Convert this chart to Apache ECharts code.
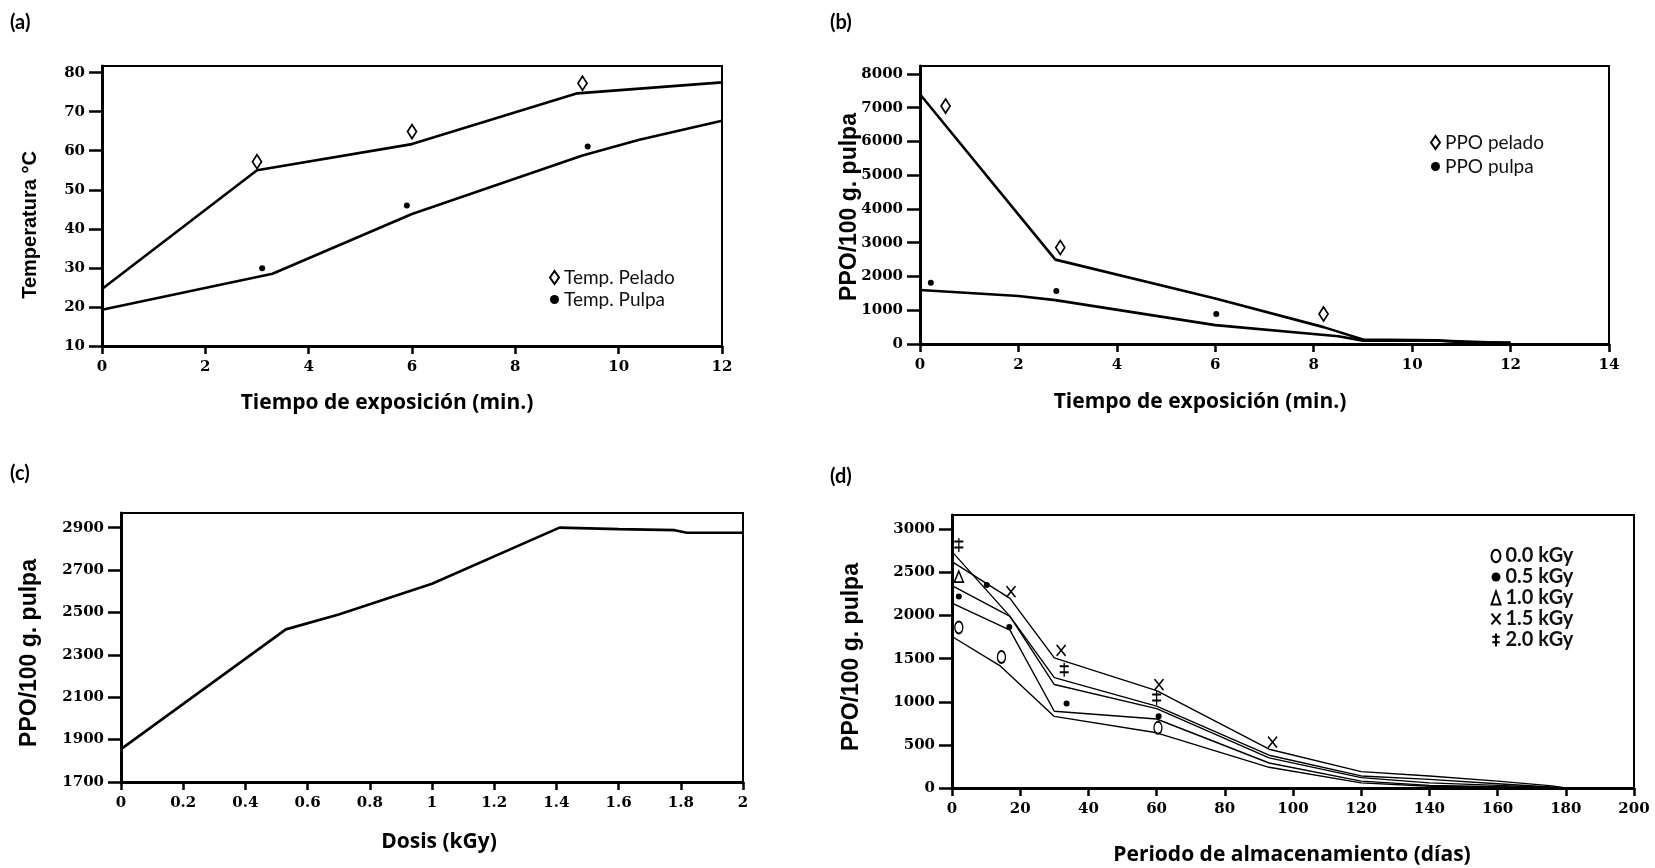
<!DOCTYPE html>
<html><head><meta charset="utf-8">
<script src="https://cdn.jsdelivr.net/npm/echarts@6/dist/echarts.min.js"></script>
<style>html,body{margin:0;padding:0;background:#fff}#c{width:1655px;height:868px}</style>
</head><body><div id="c"></div>
<script>
// ---------- Panel (a): Temperatura vs tiempo ----------
const aFitPeladoX = [0, 3, 6, 9.2, 12];
const aFitPeladoY = [24.6, 55, 61.7, 74.7, 77.5];
const aFitPulpaX = [0, 3.3, 6, 9.3, 10.4, 12];
const aFitPulpaY = [19.3, 28.5, 43.8, 58.8, 62.8, 67.7];
const aPtsPeladoX = [3.0, 6.0, 9.3];
const aPtsPeladoY = [57.2, 64.9, 77.3];
const aPtsPulpaX = [3.1, 5.9, 9.4];
const aPtsPulpaY = [29.9, 46.0, 61.1];
const aXTicks = [0, 2, 4, 6, 8, 10, 12];
const aYTicks = [10, 20, 30, 40, 50, 60, 70, 80];

// ---------- Panel (b): PPO vs tiempo ----------
const bFitPeladoX = [0, 2.75, 6, 8.2, 9, 10.5, 11, 12];
const bFitPeladoY = [7400, 2500, 1350, 500, 130, 110, 50, 40];
const bFitPulpaX = [0, 2, 2.75, 6, 8.5, 9, 10.5, 12];
const bFitPulpaY = [1600, 1420, 1300, 560, 230, 100, 100, 30];
const bPtsPeladoX = [0.52, 2.85, 8.2];
const bPtsPeladoY = [7050, 2860, 890];
const bPtsPulpaX = [0.22, 2.77, 6.02];
const bPtsPulpaY = [1815, 1570, 890];
const bXTicks = [0, 2, 4, 6, 8, 10, 12, 14];
const bYTicks = [0, 1000, 2000, 3000, 4000, 5000, 6000, 7000, 8000];

// ---------- Panel (c): PPO vs dosis ----------
const cDosis = [0, 0.53, 0.7, 1.0, 1.41, 1.6, 1.78, 1.82, 2];
const cPPO = [1855, 2420, 2490, 2635, 2900, 2893, 2888, 2876, 2876];
const cXTicks = [0, 0.2, 0.4, 0.6, 0.8, 1, 1.2, 1.4, 1.6, 1.8, 2];
const cYTicks = [1700, 1900, 2100, 2300, 2500, 2700, 2900];

// ---------- Panel (d): PPO vs almacenamiento ----------
const dNames = ['0.0 kGy', '0.5 kGy', '1.0 kGy', '1.5 kGy', '2.0 kGy'];
const dFitX0 = [0, 14, 30, 60, 93, 120, 140, 180];
const dFitY0 = [1757, 1420, 830, 640, 240, 60, 20, 0];
const dFitX05 = [0, 17, 30, 60, 93, 120, 140, 180];
const dFitY05 = [2143, 1830, 890, 800, 290, 80, 30, 0];
const dFitX10 = [0, 17, 30, 60, 93, 120, 140, 160, 180];
const dFitY10 = [2347, 1990, 1200, 920, 350, 120, 60, 30, 0];
const dFitX15 = [0, 17, 30, 60, 93, 120, 140, 160, 176, 180];
const dFitY15 = [2625, 2200, 1510, 1130, 450, 190, 140, 80, 25, 0];
const dFitX20 = [0, 17, 30, 60, 93, 120, 140, 160, 180];
const dFitY20 = [2741, 1990, 1280, 950, 380, 140, 100, 50, 0];
const dPtsX0 = [2, 14.5, 60.4];
const dPtsY0 = [1861, 1519, 698];
const dPtsX05 = [2, 10.2, 16.8, 33.6, 60.6];
const dPtsY05 = [2220, 2355, 1866, 979, 833];
const dPtsX10 = [2];
const dPtsY10 = [2452];
const dPtsX15 = [17.3, 32, 60.7, 94];
const dPtsY15 = [2278, 1596, 1199, 532];
const dPtsX20 = [2, 32.9, 60];
const dPtsY20 = [2818, 1372, 1045];
const dXTicks = [0, 20, 40, 60, 80, 100, 120, 140, 160, 180, 200];
const dYTicks = [0, 500, 1000, 1500, 2000, 2500, 3000];

const zip = (xs, ys) => xs.map((x, i) => [x, ys[i]]);

const tickFont = {fontFamily: 'DejaVu Serif', fontWeight: 'bold', fontSize: 15, color: '#000', formatter: v => String(v)};
const titleFont = 'Open Sans';

function xAxis(gi, min, max, ticks) {
  return {
    type: 'value', gridIndex: gi, min: min, max: max,
    axisLine: {show: true, onZero: false, lineStyle: {color: '#000', width: 3}},
    axisTick: {show: true, inside: false, length: 8, customValues: ticks, lineStyle: {color: '#000', width: 2.5}},
    axisLabel: Object.assign({margin: 14, customValues: ticks}, tickFont),
    splitLine: {show: false}
  };
}
function yAxis(gi, min, max, ticks) {
  return {
    type: 'value', gridIndex: gi, min: min, max: max,
    axisLine: {show: true, onZero: false, lineStyle: {color: '#000', width: 3}},
    axisTick: {show: true, inside: false, length: 13, customValues: ticks, lineStyle: {color: '#000', width: 2.5}},
    axisLabel: Object.assign({margin: 17, customValues: ticks}, tickFont),
    splitLine: {show: false}
  };
}
function fit(gi, xs, ys, w) {
  return {type: 'line', xAxisIndex: gi, yAxisIndex: gi, data: zip(xs, ys), showSymbol: false,
    symbol: 'none', lineStyle: {color: '#000', width: w}, silent: true, z: 2};
}
function pts(gi, name, xs, ys, symbol, size, fill, bw) {
  return {type: 'scatter', name: name, xAxisIndex: gi, yAxisIndex: gi, data: zip(xs, ys),
    symbol: symbol, symbolSize: size,
    itemStyle: {color: fill, borderColor: '#000', borderWidth: bw, opacity: 1}, z: 3};
}

const SYM_DIAMOND = 'diamond';
const SYM_ELLIPSE = 'path://M5,0A5,7,0,1,1,5,14A5,7,0,1,1,5,0Z';
const SYM_CROSS = 'path://M0,0L10,12M10,0L0,12';
const SYM_DDAGGER = 'path://M5,0L5,14M1,3.5L9,3.5M1,9.5L9,9.5';

const grids = [
  {left: 102, top: 66, width: 620, height: 280},
  {left: 920, top: 66, width: 689, height: 278},
  {left: 121, top: 513, width: 622, height: 269},
  {left: 952, top: 515, width: 682, height: 273}
].map(g => Object.assign({show: true, borderColor: '#000', borderWidth: 2, backgroundColor: '#fff', containLabel: false}, g));

const series = [
  fit(0, aFitPeladoX, aFitPeladoY, 2.6),
  fit(0, aFitPulpaX, aFitPulpaY, 2.6),
  pts(0, 'Temp. Pelado', aPtsPeladoX, aPtsPeladoY, SYM_DIAMOND, [9, 14], '#fff', 1.8),
  pts(0, 'Temp. Pulpa', aPtsPulpaX, aPtsPulpaY, 'circle', 6, '#000', 0),
  fit(1, bFitPeladoX, bFitPeladoY, 2.6),
  fit(1, bFitPulpaX, bFitPulpaY, 2.6),
  pts(1, 'PPO pelado', bPtsPeladoX, bPtsPeladoY, SYM_DIAMOND, [9, 14], '#fff', 1.8),
  pts(1, 'PPO pulpa', bPtsPulpaX, bPtsPulpaY, 'circle', 6, '#000', 0),
  fit(2, cDosis, cPPO, 2.6),
  fit(3, dFitX0, dFitY0, 1.4),
  fit(3, dFitX05, dFitY05, 1.4),
  fit(3, dFitX10, dFitY10, 1.4),
  fit(3, dFitX15, dFitY15, 1.4),
  fit(3, dFitX20, dFitY20, 1.4),
  pts(3, dNames[0], dPtsX0, dPtsY0, SYM_ELLIPSE, [8, 12], '#fff', 1.6),
  pts(3, dNames[1], dPtsX05, dPtsY05, 'circle', 6, '#000', 0),
  pts(3, dNames[2], dPtsX10, dPtsY10, 'triangle', [9, 11], '#fff', 1.6),
  pts(3, dNames[3], dPtsX15, dPtsY15, SYM_CROSS, [9, 11], 'none', 1.6),
  pts(3, dNames[4], dPtsX20, dPtsY20, SYM_DDAGGER, [9, 14], 'none', 1.6)
];

function legend(left, top, names, gap, size, weight) {
  return {left: left, top: top, orient: 'vertical', itemWidth: 9, itemHeight: 13, itemGap: gap,
    textStyle: {fontFamily: 'Lato', fontSize: size, fontWeight: weight, color: '#111'},
    data: names, selectedMode: false, inactiveColor: '#000'};
}

function panelLabel(txt, x, y) {
  return {type: 'text', left: x, top: y, style: {text: txt, font: 'bold 20px Lato', fill: '#000'}};
}
function xTitle(txt, cx, cy, size) {
  return {type: 'text', x: cx, y: cy, style: {text: txt, font: 'bold ' + size + 'px "' + titleFont + '"', fill: '#000', align: 'center', verticalAlign: 'middle'}};
}
function yTitle(txt, cx, cy, size) {
  return {type: 'text', x: cx, y: cy, rotation: Math.PI / 2,
    style: {text: txt, font: 'bold ' + size + 'px "Liberation Sans"', fill: '#000', align: 'center', verticalAlign: 'middle'}};
}

const option = {
  animation: false,
  backgroundColor: '#fff',
  grid: grids,
  xAxis: [xAxis(0, 0, 12, aXTicks), xAxis(1, 0, 14, bXTicks), xAxis(2, 0, 2, cXTicks), xAxis(3, 0, 200, dXTicks)],
  yAxis: [yAxis(0, 10, 81.7, aYTicks), yAxis(1, 0, 8237, bYTicks), yAxis(2, 1700, 2969, cYTicks), yAxis(3, 0, 3166, dYTicks)],
  legend: [
    legend(544, 263, ['Temp. Pelado', 'Temp. Pulpa'], 3, 19, 'normal'),
    legend(1425, 128, ['PPO pelado', 'PPO pulpa'], 5, 19, 'normal'),
    legend(1484, 541, dNames, 1, 20, 'bold')
  ],
  series: series,
  graphic: [
    panelLabel('(a)', 10, 13),
    panelLabel('(b)', 830, 13),
    panelLabel('(c)', 10, 464),
    panelLabel('(d)', 830, 467),
    xTitle('Tiempo de exposición (min.)', 387, 403, 21),
    xTitle('Tiempo de exposición (min.)', 1200, 402, 21),
    xTitle('Dosis (kGy)', 439, 842, 21),
    xTitle('Periodo de almacenamiento (días)', 1292, 855, 21),
    yTitle('Temperatura °C', 30, 225, 20),
    yTitle('PPO/100 g. pulpa', 850, 207, 23),
    yTitle('PPO/100 g. pulpa', 30, 653, 23),
    yTitle('PPO/100 g. pulpa', 852, 657, 23)
  ]
};

const chart = echarts.init(document.getElementById('c'), null, {renderer: 'canvas'});
chart.setOption(option);
</script>
</body></html>
